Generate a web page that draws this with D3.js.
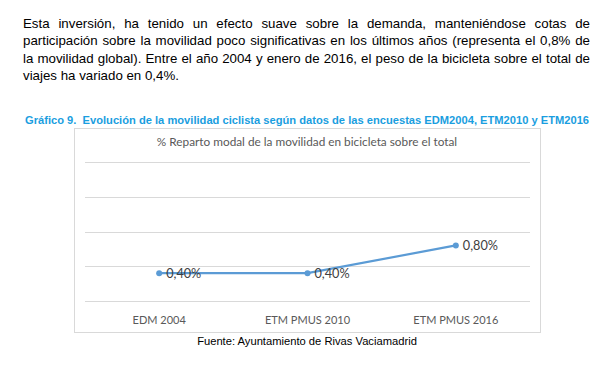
<!DOCTYPE html>
<meta charset="utf-8">
<style>
    body {
        margin: 0;
        background: white;
    }
    svg {
        display: block;
    }
    .para {
        font: 13.3px "Liberation Sans", Arial, sans-serif;
        fill: #000;
    }
    .caption {
        font: bold 11.15px "Liberation Sans", Arial, sans-serif;
        fill: #1a9ee0;
    }
    .source {
        font: 11.2px "Liberation Sans", Arial, sans-serif;
        fill: #000;
    }
    .chart-title {
        font: 11.8px Lato, "Open Sans", sans-serif;
        fill: #595959;
    }
    .x-axis text {
        font: 11px Lato, "Open Sans", sans-serif;
        fill: #595959;
    }
    .grid line {
        stroke: #d9d9d9;
        stroke-width: 1;
        shape-rendering: crispEdges;
    }
    .value-label {
        font: 12.7px Lato, "Open Sans", sans-serif;
        fill: #404040;
    }
</style>
<body>
<script src="https://cdn.jsdelivr.net/npm/d3@7"></script>
<script>
    const width = 611;
    const height = 365;

    // texto del informe (una entrada por línea, como en el original)
    const paragraphLines = [
        "Esta inversión, ha tenido un efecto suave sobre la demanda, manteniéndose cotas de",
        "participación sobre la movilidad poco significativas en los últimos años (representa el 0,8% de",
        "la movilidad global). Entre el año 2004 y enero de 2016, el peso de la bicicleta sobre el total de",
        "viajes ha variado en 0,4%."
    ];
    const captionText = "Gráfico 9.  Evolución de la movilidad ciclista según datos de las encuestas EDM2004, ETM2010 y ETM2016";
    const chartTitle = "% Reparto modal de la movilidad en bicicleta sobre el total";
    const sourceText = "Fuente: Ayuntamiento de Rivas Vaciamadrid";

    // datos
    const surveys = ["EDM 2004", "ETM PMUS 2010", "ETM PMUS 2016"];
    const bikeShare = [0.40, 0.40, 0.80];
    const valueLabels = ["0,40%", "0,40%", "0,80%"];
    const yTicks = [0, 0.5, 1.0, 1.5, 2.0];

    const svg = d3.select("body")
        .append("svg")
        .attr("width", width)
        .attr("height", height);

    // párrafo justificado
    const paraLeft = 23, paraRight = 590;
    paragraphLines.forEach((line, i) => {
        const t = svg.append("text")
            .attr("class", "para")
            .attr("x", paraLeft)
            .attr("y", 27.5 + i * 17.5)
            .text(line);
        if (i < paragraphLines.length - 1) {
            const natural = t.node().getComputedTextLength();
            const spaces = (line.match(/ /g) || []).length;
            t.attr("word-spacing", (paraRight - paraLeft - natural) / spaces);
        }
    });

    svg.append("text")
        .attr("class", "caption")
        .attr("x", 25)
        .attr("y", 124)
        .attr("xml:space", "preserve")
        .text(captionText);

    // marco del gráfico
    const frame = {x: 74, y: 128, w: 466, h: 204};
    svg.append("rect")
        .attr("x", frame.x + 0.5)
        .attr("y", frame.y + 0.5)
        .attr("width", frame.w)
        .attr("height", frame.h)
        .attr("fill", "white")
        .attr("stroke", "#d9d9d9");

    svg.append("text")
        .attr("class", "chart-title")
        .attr("x", 307)
        .attr("y", 146)
        .attr("text-anchor", "middle")
        .text(chartTitle);

    const plot = {left: 85, right: 530, top: 162, bottom: 301};

    const xScale = d3.scaleBand()
        .domain(surveys)
        .range([plot.left, plot.right]);

    const yScale = d3.scaleLinear()
        .domain([0, 2.0])
        .range([plot.bottom, plot.top]);

    // líneas de cuadrícula
    svg.append("g")
        .attr("class", "grid")
        .selectAll("line")
        .data(yTicks)
        .enter().append("line")
        .attr("x1", plot.left)
        .attr("x2", plot.right)
        .attr("y1", d => Math.round(yScale(d)) + 0.5)
        .attr("y2", d => Math.round(yScale(d)) + 0.5);

    // eje x (sin línea ni marcas)
    const xAxis = d3.axisBottom(xScale).tickSize(0).tickPadding(15);
    const gX = svg.append("g")
        .attr("class", "x-axis")
        .attr("transform", "translate(0," + plot.bottom + ")")
        .call(xAxis);
    gX.select(".domain").remove();
    gX.selectAll("text").attr("font-family", null).attr("font-size", null);

    const cx = (d, i) => xScale(surveys[i]) + xScale.bandwidth() / 2;

    const line = d3.line()
        .x((d, i) => cx(d, i))
        .y(d => yScale(d));

    svg.append("path")
        .datum(bikeShare)
        .attr("fill", "none")
        .attr("stroke", "#5b9bd5")
        .attr("stroke-width", 2.2)
        .attr("stroke-linecap", "round")
        .attr("d", line);

    svg.selectAll(".dot")
        .data(bikeShare)
        .enter().append("circle")
        .attr("class", "dot")
        .attr("cx", cx)
        .attr("cy", d => yScale(d))
        .attr("r", 3)
        .attr("fill", "#5b9bd5");

    svg.selectAll(".value-label")
        .data(bikeShare)
        .enter().append("text")
        .attr("class", "value-label")
        .attr("x", (d, i) => cx(d, i) + 7)
        .attr("y", d => yScale(d))
        .attr("dy", "0.36em")
        .text((d, i) => valueLabels[i]);

    svg.append("text")
        .attr("class", "source")
        .attr("x", 307)
        .attr("y", 345)
        .attr("text-anchor", "middle")
        .text(sourceText);
</script>
</body>
